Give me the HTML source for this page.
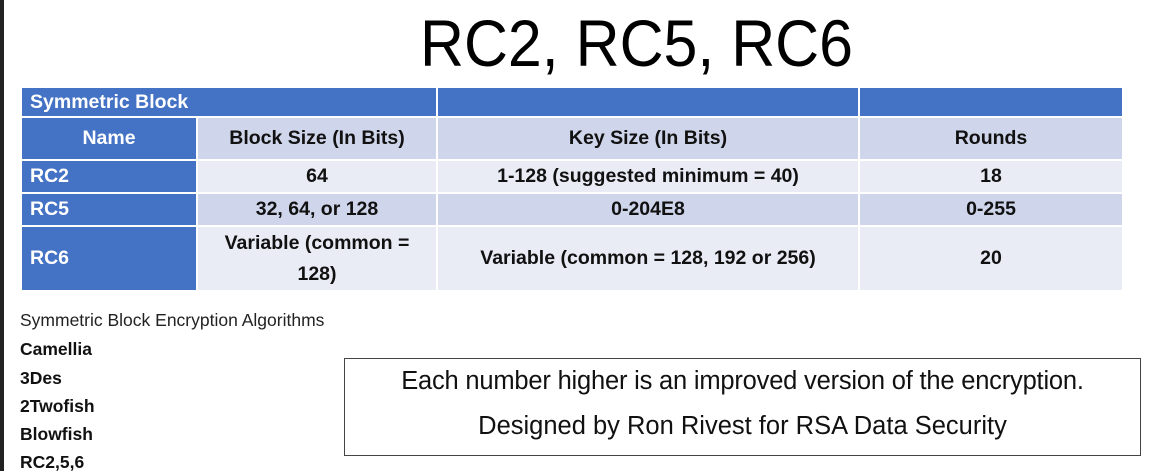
<!DOCTYPE html>
<html><head><meta charset="utf-8"><style>
body{margin:0;width:1176px;height:471px;overflow:hidden;background:#fff;position:relative;font-family:"Liberation Sans",sans-serif}
.a{position:absolute}
.c{position:absolute;display:flex;align-items:center;justify-content:center;text-align:center;font-weight:bold;font-size:19.5px;color:#111;line-height:31px;box-sizing:border-box}
.bl{background:#4472C4;color:#fff}
.d{background:#CFD5EA}.l{background:#E9EBF5}
.left{justify-content:flex-start;padding-left:8px}
.li{position:absolute;left:20px;font-size:17.5px;font-weight:bold;color:#111}
</style></head><body>
<div class="a" style="left:0;top:0;width:4px;height:471px;background:#222"></div>
<svg class="a" style="left:0;top:0" width="1176" height="90"><text x="420" y="66" font-size="66" textLength="433" lengthAdjust="spacingAndGlyphs" font-family="Liberation Sans, sans-serif" fill="#000">RC2, RC5, RC6</text></svg>
<div>
<div class="c bl left" style="left:22px;top:88px;width:414px;height:28px;font-size:19.5px">Symmetric Block</div>
<div class="c bl" style="left:438px;top:88px;width:420px;height:28px"></div>
<div class="c bl" style="left:860px;top:88px;width:262px;height:28px"></div>

<div class="c bl" style="left:22px;top:118px;width:174px;height:41px">Name</div>
<div class="c d" style="left:198px;top:118px;width:238px;height:41px">Block Size (In Bits)</div>
<div class="c d" style="left:438px;top:118px;width:420px;height:41px">Key Size (In Bits)</div>
<div class="c d" style="left:860px;top:118px;width:262px;height:41px">Rounds</div>

<div class="c bl left" style="left:22px;top:161px;width:174px;height:31px">RC2</div>
<div class="c l" style="left:198px;top:161px;width:238px;height:31px">64</div>
<div class="c l" style="left:438px;top:161px;width:420px;height:31px">1-128 (suggested minimum = 40)</div>
<div class="c l" style="left:860px;top:161px;width:262px;height:31px">18</div>

<div class="c bl left" style="left:22px;top:194px;width:174px;height:31px">RC5</div>
<div class="c d" style="left:198px;top:194px;width:238px;height:31px">32, 64, or 128</div>
<div class="c d" style="left:438px;top:194px;width:420px;height:31px">0-204E8</div>
<div class="c d" style="left:860px;top:194px;width:262px;height:31px">0-255</div>

<div class="c bl left" style="left:22px;top:227px;width:174px;height:63px">RC6</div>
<div class="c l" style="left:198px;top:227px;width:238px;height:63px">Variable (common =<br>128)</div>
<div class="c l" style="left:438px;top:227px;width:420px;height:63px">Variable (common = 128, 192 or 256)</div>
<div class="c l" style="left:860px;top:227px;width:262px;height:63px">20</div>
</div>
<div class="a" style="left:20px;top:310px;font-size:17.5px;color:#222">Symmetric Block Encryption Algorithms</div>
<div class="li" style="top:339px">Camellia</div>
<div class="li" style="top:368px">3Des</div>
<div class="li" style="top:396px">2Twofish</div>
<div class="li" style="top:424px">Blowfish</div>
<div class="li" style="top:452px">RC2,5,6</div>
<div class="a" style="left:344px;top:358px;width:797px;height:98px;border:1.5px solid #444;box-sizing:border-box;text-align:center;font-size:25.5px;color:#111;line-height:45px;padding-top:0px">
<div style="white-space:nowrap;letter-spacing:-0.2px">Each number higher is an improved version of the encryption.</div>
<div>Designed by Ron Rivest for RSA Data Security</div>
</div>
</body></html>
